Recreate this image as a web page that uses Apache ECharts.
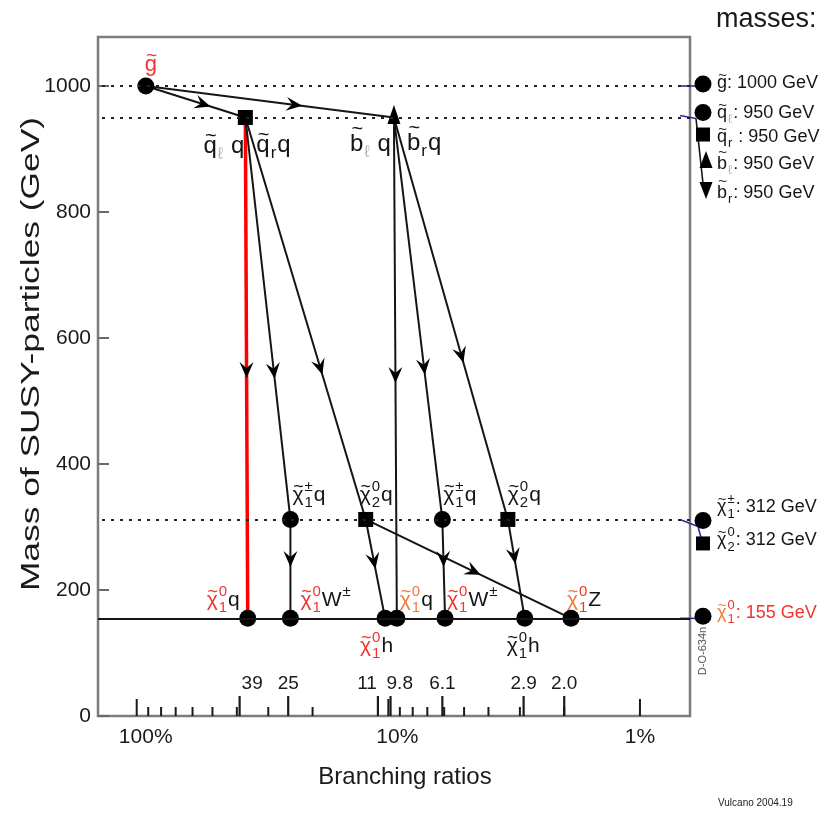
<!DOCTYPE html>
<html>
<head>
<meta charset="utf-8">
<script src="https://cdn.jsdelivr.net/npm/echarts@6/dist/echarts.min.js"></script>
<style>
  html, body { margin: 0; padding: 0; background: #ffffff; }
  #chart { width: 832px; height: 816px; }
</style>
</head>
<body>
<div id="chart"></div>
<script>
// ---------------- data ----------------
// sparticle nodes: id, branching ratio (%), mass (GeV), marker shape
const nodeIds    = ['gl', 'sq', 'sb', 'c1a', 'n2a', 'c1b', 'n2b', 'f1', 'f2', 'f3', 'f4', 'f5', 'f6', 'f7'];
const nodeBR     = [92, 37, 9.5, 24.5, 12.3, 6.1, 3.35, 36.2, 24.5, 10.3, 9.25, 5.95, 2.87, 1.88];
const nodeMass   = [1000, 950, 950, 312, 312, 312, 312, 155, 155, 155, 155, 155, 155, 155];
const nodeShape  = ['circle', 'rect', 'triangle', 'circle', 'rect', 'circle', 'rect',
                    'circle', 'circle', 'circle', 'circle', 'circle', 'circle', 'circle'];

// decay chain edges (parent -> daughter)
const decayFrom  = ['gl', 'gl', 'sq', 'sq', 'sq', 'sb', 'sb', 'sb', 'c1a', 'n2a', 'n2a', 'c1b', 'n2b'];
const decayTo    = ['sq', 'sb', 'f1', 'c1a', 'n2a', 'f4', 'c1b', 'n2b', 'f2', 'f3', 'f7', 'f5', 'f6'];

// mass levels drawn across the plot
const massLevels = [1000, 950, 312, 155];

// branching-ratio axis ticks
const decadeTicks  = [100, 10, 1];
const minorTicks   = [90, 80, 70, 60, 50, 40, 30, 20, 9, 8, 7, 6, 5, 4, 3, 2];
const brTicks      = [39, 25, 11, 9.8, 6.1, 2.9, 2.0];
const brTickLabels = ['39', '25', '11', '9.8', '6.1', '2.9', '2.0'];

// mass table on the right
const tableMass  = [1000, 950, 950, 950, 950, 312, 312, 155];
const tableShape = ['circle', 'circle', 'rect', 'triangle', 'triangle', 'circle', 'rect', 'circle'];
const tableText  = ['1000 GeV', '950 GeV', '950 GeV', '950 GeV', '950 GeV', '312 GeV', '312 GeV', '155 GeV'];

// ---------------- styling ----------------
const FONT = '"Liberation Sans", Arial, Helvetica, sans-serif';
const INK = '#151515';
const RED = '#f0332e';
const ORANGE = '#f47838';
const LGRAY = '#b5b5b5';
const FRAME = '#7c7c7c';
const BLUE = '#2b2b9c';

// where along each edge the arrow tip sits (fraction of the segment)
const arrowAt = [0.65, 0.63, 0.52, 0.65, 0.64, 0.53, 0.64, 0.61, 0.48, 0.50, 0.56, 0.48, 0.45];
// edge drawn in red
const redEdge = { 2: true };

// placement of the branching-ratio values relative to their tick: [align, x shift]
const brTickAlign = { '39': ['left', 2], '11': ['right', -1], '9.8': ['left', -4] };

// ---------------- label composer (tilde letters, stacked indices) ----------------
const T = (t, color) => ({ kind: 'tilde', t, color: color || INK });
const S = (sup, sub, color) => ({ kind: 'stack', sup, sub, color: color || INK });
const P = (t, color) => ({ kind: 'plain', t, color: color || INK });
const D = (t, color) => ({ kind: 'sub', t, color: color || INK });
const U = (t, color) => ({ kind: 'sup', t, color: color || INK });

const mctx = document.createElement('canvas').getContext('2d');
function tw(s, size) { mctx.font = size + 'px ' + FONT; return mctx.measureText(s).width; }
function txt(s, x, y, size, color, align) {
  const a = align || 'left';
  return {
    type: 'text', x, y, silent: true,
    style: { text: s, font: size + 'px ' + FONT, fill: color,
             align: a, textAlign: a, verticalAlign: 'middle', textVerticalAlign: 'middle' }
  };
}
function buildLabel(parts, fs, align) {
  const ss = Math.round(fs * 0.7);
  const kids = [];
  let x = 0;
  parts.forEach(p => {
    if (p.kind === 'plain') {
      kids.push(txt(p.t, x, 0, fs, p.color));
      x += tw(p.t, fs);
    } else if (p.kind === 'tilde') {
      const w = tw(p.t, fs);
      kids.push(txt(p.t, x, 0, fs, p.color));
      const tall = /[bdhklf]/.test(p.t);
      kids.push(txt('~', x + w * 0.55, tall ? -fs * 0.62 : -fs * 0.42, Math.round(fs * 0.85), p.color, 'center'));
      x += w;
    } else if (p.kind === 'stack') {
      const w = Math.max(tw(p.sup, ss), tw(p.sub, ss));
      kids.push(txt(p.sup, x + 1, -fs * 0.42, ss, p.color));
      kids.push(txt(p.sub, x + 1, fs * 0.36, ss, p.color));
      x += w + 2;
    } else if (p.kind === 'sub') {
      kids.push(txt(p.t, x + 1, fs * 0.32, ss, p.color));
      x += tw(p.t, ss) + 2;
    } else if (p.kind === 'sup') {
      kids.push(txt(p.t, x + 1, -fs * 0.40, ss, p.color));
      x += tw(p.t, ss) + 2;
    }
  });
  const shift = align === 'right' ? -x : (align === 'center' ? -x / 2 : 0);
  kids.forEach(k => { k.x += shift; });
  return kids;
}

// labels attached to decay nodes (offsets in px from the node centre)
const nodeLabels = [
  { at: 'gl',  parts: [T('g', RED)], align: 'center', dx: 5, dy: -21, fs: 22 },
  { at: 'sq',  parts: [T('q'), D('ℓ', LGRAY), P(' q')], align: 'right', dx: -1, dy: 29, fs: 24 },
  { at: 'sq',  parts: [T('q'), D('r'), P('q')], align: 'left', dx: 11, dy: 28, fs: 24 },
  { at: 'sb',  parts: [T('b'), D('ℓ', LGRAY), P(' q')], align: 'right', dx: -3, dy: 27, fs: 24 },
  { at: 'sb',  parts: [T('b'), D('r'), P('q')], align: 'left', dx: 13, dy: 26, fs: 24 },
  { at: 'c1a', parts: [T('χ'), S('±', '1'), P('q')], align: 'left', dx: 2, dy: -24, fs: 21 },
  { at: 'n2a', parts: [T('χ'), S('0', '2'), P('q')], align: 'left', dx: -6, dy: -24, fs: 21 },
  { at: 'c1b', parts: [T('χ'), S('±', '1'), P('q')], align: 'left', dx: 1, dy: -24, fs: 21 },
  { at: 'n2b', parts: [T('χ'), S('0', '2'), P('q')], align: 'left', dx: 0, dy: -24, fs: 21 },
  { at: 'f1',  parts: [T('χ', RED), S('0', '1', RED), P('q')], align: 'right', dx: -8, dy: -18, fs: 21 },
  { at: 'f2',  parts: [T('χ', RED), S('0', '1', RED), P('W'), U('±')], align: 'left', dx: 10, dy: -18, fs: 21 },
  { at: 'f3',  parts: [T('χ', RED), S('0', '1', RED), P('h')], align: 'left', dx: -25, dy: 28, fs: 21 },
  { at: 'f4',  parts: [T('χ', ORANGE), S('0', '1', ORANGE), P('q')], align: 'left', dx: 3, dy: -18, fs: 21 },
  { at: 'f5',  parts: [T('χ', RED), S('0', '1', RED), P('W'), U('±')], align: 'left', dx: 2, dy: -18, fs: 21 },
  { at: 'f6',  parts: [T('χ'), S('0', '1'), P('h')], align: 'left', dx: -18, dy: 28, fs: 21 },
  { at: 'f7',  parts: [T('χ', ORANGE), S('0', '1', RED), P('Z')], align: 'left', dx: -4, dy: -18, fs: 21 }
];

// names in the mass table
const tableNames = [
  [T('g')],
  [T('q'), D('ℓ', LGRAY)],
  [T('q'), D('r'), P(' ')],
  [T('b'), D('ℓ', LGRAY)],
  [T('b'), D('r')],
  [T('χ'), S('±', '1')],
  [T('χ'), S('0', '2')],
  [T('χ', ORANGE), S('0', '1', RED)]
];
const tableTextColor = [INK, INK, INK, INK, INK, INK, INK, RED];
// vertical spreading of the table rows (px from the mass level)
const tableMarkDy  = [-2, -5, 17, 42, 73, 1, 24, -2];
const tableLabelDy = [-3, -4, 20, 47, 76, -12, 21, -5];

// connectors from the plot edge to the table markers: [x0, mass, dy0, x1, dy1, blue?]
const connectors = [
  [-10, 1000, 0, 8, 0, 1],
  [-10, 950, -2, 6, 1, 1],
  [6, 950, 1, 13, 66, 0],
  [-10, 312, 0, 8, 7, 1],
  [8, 312, 7, 12, 22, 1],
  [-10, 155, 0, 8, 0, 1]
];

// ---------------- assemble ----------------
const idx = id => nodeIds.indexOf(id);

const edgeData = decayFrom.map((f, i) => {
  const a = idx(f), b = idx(decayTo[i]);
  return [nodeBR[a], nodeMass[a], nodeBR[b], nodeMass[b], arrowAt[i], redEdge[i] ? 1 : 0];
});

const nodeData = nodeIds.map((id, i) => {
  const shape = nodeShape[i];
  return {
    value: [nodeBR[i], nodeMass[i]],
    symbol: shape,
    symbolSize: shape === 'circle' ? 17 : (shape === 'rect' ? 15 : [13, 19]),
    symbolOffset: shape === 'triangle' ? [0, -3] : [0, 0]
  };
});

const tickData = []
  .concat(decadeTicks.map(v => [v, 0, 0, -1]))
  .concat(minorTicks.map(v => [v, 0, 1, -1]))
  .concat(brTicks.map((v, i) => [v, 0, 2, i]));

const chart = echarts.init(document.getElementById('chart'), null, { renderer: 'canvas', width: 832, height: 816 });

const option = {
  animation: false,
  backgroundColor: '#ffffff',
  grid: [
    { left: 98, right: 142, top: 37, bottom: 100, show: true, borderColor: FRAME, borderWidth: 2.5, backgroundColor: 'transparent' },
    { left: 690, right: 0, top: 37, bottom: 100, show: false }
  ],
  xAxis: [
    {
      type: 'log', logBase: 10, gridIndex: 0, inverse: true, min: 0.6326, max: 142.5,
      axisLine: { show: false }, axisTick: { show: false }, splitLine: { show: false },
      minorTick: { show: false }, minorSplitLine: { show: false },
      axisLabel: {
        showMinLabel: false, showMaxLabel: false, margin: 11, fontSize: 21, color: '#1a1a1a', fontFamily: FONT,
        formatter: v => {
          const l = Math.log10(v);
          if (Math.abs(l - Math.round(l)) > 1e-6) return '';
          const n = Math.round(v);
          return n >= 10 ? '{w|' + n + '%}' : '{n|' + n + '%}';
        },
        rich: {
          w: { fontSize: 21, color: '#1a1a1a', fontFamily: FONT, padding: [0, 0, 0, 18] },
          n: { fontSize: 21, color: '#1a1a1a', fontFamily: FONT }
        }
      }
    },
    { type: 'value', gridIndex: 1, min: 0, max: 142, show: false }
  ],
  yAxis: [
    {
      type: 'value', gridIndex: 0, min: 0, max: 1077.8, interval: 200,
      axisLine: { show: false },
      axisTick: { show: true, inside: true, length: 11, lineStyle: { color: '#6a6a6a', width: 2 } },
      splitLine: { show: false },
      axisLabel: { showMaxLabel: false, margin: 7, fontSize: 21, color: '#1a1a1a', fontFamily: FONT,
                   formatter: v => (v % 200 === 0 ? String(v) : '') }
    },
    { type: 'value', gridIndex: 1, min: 0, max: 1077.8, show: false }
  ],
  graphic: [
    { type: 'text', x: 32, y: 354, rotation: Math.PI / 2, scaleX: 1.36, silent: true,
      style: { text: 'Mass of SUSY-particles (GeV)', font: '26px ' + FONT, fill: '#1a1a1a',
               align: 'center', verticalAlign: 'middle' } },
    { type: 'text', x: 405, y: 777, silent: true,
      style: { text: 'Branching ratios', font: '24px ' + FONT, fill: '#1a1a1a',
               align: 'center', verticalAlign: 'middle' } },
    { type: 'text', x: 716, y: 20, silent: true,
      style: { text: 'masses:', font: '27px ' + FONT, fill: '#1a1a1a',
               align: 'left', verticalAlign: 'middle' } },
    { type: 'text', x: 703, y: 651, rotation: Math.PI / 2, silent: true,
      style: { text: 'D-O-634n', font: '11px ' + FONT, fill: '#555555',
               align: 'center', verticalAlign: 'middle' } },
    { type: 'text', x: 718, y: 803, silent: true,
      style: { text: 'Vulcano 2004.19', font: '10px ' + FONT, fill: '#222222',
               align: 'left', verticalAlign: 'middle' } }
  ],
  series: [
    // mass levels
    {
      type: 'line', xAxisIndex: 0, yAxisIndex: 0, data: [], silent: true, z: 1,
      markLine: {
        silent: true, symbol: 'none', label: { show: false }, animation: false,
        data: massLevels.map(m => ({
          yAxis: m,
          lineStyle: m === 155 ? { type: 'solid', color: INK, width: 1.8 }
                               : { type: [3, 6], color: '#222222', width: 2 }
        }))
      }
    },
    // decay edges with arrowheads
    {
      type: 'custom', xAxisIndex: 0, yAxisIndex: 0, z: 2, silent: true,
      data: edgeData,
      renderItem: (params, api) => {
        const a = api.coord([api.value(0), api.value(1)]);
        const b = api.coord([api.value(2), api.value(3)]);
        const t = api.value(4);
        const red = api.value(5) === 1;
        const dx = b[0] - a[0], dy = b[1] - a[1];
        const len = Math.hypot(dx, dy);
        const ux = dx / len, uy = dy / len, nx = -uy, ny = ux;
        const tip = [a[0] + dx * t, a[1] + dy * t];
        const L = 16, W = 7, N = 10;
        const back = [tip[0] - ux * L, tip[1] - uy * L];
        const pts = [tip, [back[0] + nx * W, back[1] + ny * W], [tip[0] - ux * N, tip[1] - uy * N],
                     [back[0] - nx * W, back[1] - ny * W]];
        return {
          type: 'group',
          children: [
            { type: 'line', shape: { x1: a[0], y1: a[1], x2: b[0], y2: b[1] },
              style: { stroke: red ? '#ff0000' : INK, lineWidth: red ? 3.5 : 2 } },
            { type: 'polygon', shape: { points: pts }, style: { fill: '#000000' } }
          ]
        };
      }
    },
    // decay nodes
    {
      type: 'scatter', xAxisIndex: 0, yAxisIndex: 0, z: 3, silent: true,
      itemStyle: { color: '#000000', opacity: 1 },
      data: nodeData
    },
    // node labels
    {
      type: 'custom', xAxisIndex: 0, yAxisIndex: 0, z: 4, silent: true,
      data: nodeLabels.map((l, i) => [nodeBR[idx(l.at)], nodeMass[idx(l.at)], i]),
      renderItem: (params, api) => {
        const l = nodeLabels[api.value(2)];
        const p = api.coord([api.value(0), api.value(1)]);
        return { type: 'group', x: p[0] + l.dx, y: p[1] + l.dy, children: buildLabel(l.parts, l.fs, l.align) };
      }
    },
    // branching-ratio axis ticks and values
    {
      type: 'custom', xAxisIndex: 0, yAxisIndex: 0, z: 5, silent: true, clip: false,
      data: tickData,
      renderItem: (params, api) => {
        const p = api.coord([api.value(0), api.value(1)]);
        const kind = api.value(2);
        const len = kind === 0 ? 17 : (kind === 1 ? 9 : 20);
        const kids = [
          { type: 'line', shape: { x1: p[0], y1: p[1], x2: p[0], y2: p[1] - len },
            style: { stroke: '#1a1a1a', lineWidth: kind === 2 ? 2.2 : 2 } }
        ];
        if (kind === 2) {
          const s = brTickLabels[api.value(3)];
          const pl = brTickAlign[s] || ['center', 0];
          kids.push(txt(s, p[0] + pl[1], p[1] - len - 12, 19, '#1a1a1a', pl[0]));
        }
        return { type: 'group', children: kids };
      }
    },
    // connectors to the mass table
    {
      type: 'custom', xAxisIndex: 1, yAxisIndex: 1, z: 2, silent: true, clip: false,
      data: connectors,
      renderItem: (params, api) => {
        const a = api.coord([api.value(0), api.value(1)]);
        const b = api.coord([api.value(3), api.value(1)]);
        return { type: 'line',
                 shape: { x1: a[0], y1: a[1] + api.value(2), x2: b[0], y2: b[1] + api.value(4) },
                 style: { stroke: api.value(5) === 1 ? BLUE : INK, lineWidth: 1.6 } };
      }
    },
    // mass table markers
    {
      type: 'scatter', xAxisIndex: 1, yAxisIndex: 1, z: 3, silent: true, clip: false,
      itemStyle: { color: '#000000', opacity: 1 },
      data: tableMass.map((m, i) => {
        const shape = tableShape[i];
        const down = i === 4;
        return {
          value: [13, m],
          symbol: shape,
          symbolRotate: down ? 180 : 0,
          symbolSize: shape === 'circle' ? 17 : (shape === 'rect' ? 14 : [13, 17]),
          symbolOffset: [shape === 'triangle' ? 3 : 0, tableMarkDy[i]]
        };
      })
    },
    // mass table text
    {
      type: 'custom', xAxisIndex: 1, yAxisIndex: 1, z: 4, silent: true, clip: false,
      data: tableMass.map((m, i) => [13, m, i]),
      renderItem: (params, api) => {
        const i = api.value(2);
        const p = api.coord([api.value(0), api.value(1)]);
        const parts = tableNames[i].concat([P(': ' + tableText[i], tableTextColor[i])]);
        return { type: 'group', x: p[0] + 14, y: p[1] + tableLabelDy[i], children: buildLabel(parts, 18, 'left') };
      }
    }
  ]
};

chart.setOption(option);
</script>
</body>
</html>
